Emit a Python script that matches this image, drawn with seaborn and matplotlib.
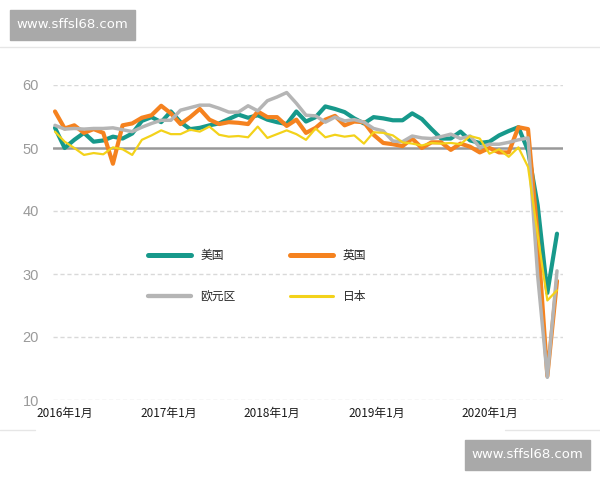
import numpy as np
import pandas as pd
import matplotlib
matplotlib.use("Agg")
import matplotlib.pyplot as plt
from matplotlib.lines import Line2D
from matplotlib.patches import Rectangle
import seaborn as sns

# ---------------- data ----------------
series_names = ["美国", "英国", "欧元区", "日本"]
us = [53.2, 50.0, 51.3, 52.4, 51.0, 51.2, 51.8, 51.5, 52.3, 54.3, 54.9, 54.1,
      55.8, 54.1, 53.0, 53.2, 53.6, 53.9, 54.6, 55.3, 54.8, 55.2, 54.5, 54.1,
      53.8, 55.8, 54.2, 54.9, 56.6, 56.2, 55.7, 54.7, 53.9, 54.9, 54.7, 54.4,
      54.4, 55.5, 54.6, 53.0, 51.5, 51.5, 52.6, 51.2, 50.8, 51.0, 52.0, 52.7,
      53.3, 49.6, 40.9, 27.0, 36.4]
uk = [55.8, 53.1, 53.6, 52.4, 53.0, 52.4, 47.5, 53.6, 53.9, 54.8, 55.2, 56.7,
      55.5, 53.8, 54.9, 56.2, 54.5, 53.8, 54.1, 54.0, 53.8, 55.8, 54.9, 54.9,
      53.5, 54.5, 52.4, 53.2, 54.5, 55.1, 53.6, 54.2, 54.1, 52.1, 50.8, 50.6,
      50.3, 51.5, 50.0, 50.9, 50.9, 49.7, 50.7, 50.2, 49.3, 50.0, 49.3, 49.3,
      53.3, 53.0, 36.0, 13.8, 28.9]
ez = [53.6, 53.0, 53.1, 53.0, 53.1, 53.1, 53.2, 52.9, 52.6, 53.3, 53.9, 54.4,
      54.4, 56.0, 56.4, 56.8, 56.8, 56.3, 55.7, 55.7, 56.7, 55.9, 57.5, 58.1,
      58.8, 57.1, 55.2, 55.1, 54.1, 54.9, 54.3, 54.5, 54.1, 53.1, 52.7, 51.1,
      51.0, 51.9, 51.6, 51.5, 51.8, 52.2, 51.5, 51.9, 50.1, 50.6, 50.6, 50.9,
      51.3, 51.6, 29.7, 13.6, 30.5]
jp = [52.6, 51.0, 50.0, 48.9, 49.2, 49.0, 50.1, 49.8, 48.9, 51.3, 52.0, 52.8,
      52.2, 52.2, 52.9, 52.6, 53.4, 52.1, 51.8, 51.9, 51.7, 53.4, 51.6, 52.2,
      52.8, 52.2, 51.3, 53.1, 51.7, 52.1, 51.8, 52.0, 50.7, 52.5, 52.4, 52.0,
      50.9, 50.7, 50.4, 50.8, 50.7, 50.8, 50.6, 51.9, 51.5, 49.1, 49.8, 48.6,
      50.1, 47.0, 36.2, 25.8, 27.4]
x_tick_labels = ["2016年1月", "2017年1月", "2018年1月", "2019年1月", "2020年1月"]
y_ticks = [10, 20, 30, 40, 50, 60]

colors = {"美国": "#17998b", "英国": "#f5821f", "欧元区": "#b5b5b5", "日本": "#f3d21a"}
widths = {"美国": 3.0, "英国": 3.0, "欧元区": 2.5, "日本": 1.6}

month_idx = np.arange(len(us))
df = pd.concat([
    pd.DataFrame({"month": month_idx, "value": vals, "country": name})
    for name, vals in zip(series_names, [us, uk, ez, jp])
], ignore_index=True)

# ---------------- figure ----------------
sns.set_theme(style="white")
plt.rcParams["font.family"] = ["Noto Sans CJK SC", "DejaVu Sans"]

fig = plt.figure(figsize=(6, 4.8), dpi=100)
W, H = 600, 480
ax_l, ax_r, ax_t, ax_b = 53, 563, 85, 400
ax = fig.add_axes([ax_l / W, (H - ax_b) / H, (ax_r - ax_l) / W, (ax_b - ax_t) / H])

px_per_month = 9.654
x0 = -2 / px_per_month
x1 = (len(us) - 1) + 6 / px_per_month
ax.set_xlim(x0, x1)
ax.set_ylim(10, 60)

# gridlines
for yv in y_ticks:
    if yv != 50:
        ax.axhline(yv, color="#d9d9d9", lw=1.0, ls=(0, (3, 2)), zorder=0)
ax.axhline(50, color="#999999", lw=1.8, zorder=1)

for name in series_names:
    sub = df[df["country"] == name]
    sns.lineplot(data=sub, x="month", y="value", ax=ax, color=colors[name],
                 lw=widths[name], legend=False, zorder=3,
                 solid_capstyle="round", solid_joinstyle="round")

for s in ax.spines.values():
    s.set_visible(False)

ax.set_yticks(y_ticks)
ax.set_yticklabels([str(v) for v in y_ticks], color="#9a9a9a", fontsize=10.5,
                   family=["Liberation Sans", "DejaVu Sans"])
tick_pos = [(p - 55) / px_per_month for p in [65, 169, 272, 377, 490]]
ax.set_xticks(tick_pos)
ax.set_xticklabels(x_tick_labels, color="#1a1a1a", fontsize=8.5)
ax.tick_params(axis="both", length=0)
ax.tick_params(axis="y", pad=10)
ax.tick_params(axis="x", pad=5)
ax.set_xlabel("")
ax.set_ylabel("")

# legend (row-wise: 美国 英国 / 欧元区 日本)
leg_order = ["美国", "欧元区", "英国", "日本"]
handles = [Line2D([0], [0], color=colors[n], lw=widths[n] + 0.6, solid_capstyle="round")
           for n in leg_order]
fig.legend(handles, leg_order, ncol=2, frameon=False, loc="upper left",
           bbox_to_anchor=(148 / W, (H - 249) / H), bbox_transform=fig.transFigure,
           fontsize=8.5, handlelength=3.6, handletextpad=0.85, labelspacing=2.4,
           columnspacing=4.6, borderpad=0, borderaxespad=0)

# frame lines from the screenshot
fig.add_artist(Line2D([0, 1], [(H - 47) / H] * 2, color="#e6e6e6", lw=1.0,
                      transform=fig.transFigure))
fig.add_artist(Line2D([505 / W, 1], [(H - 430) / H] * 2, color="#e6e6e6", lw=1.0,
                      transform=fig.transFigure))
fig.add_artist(Line2D([0, 35 / W], [(H - 430) / H] * 2, color="#e6e6e6", lw=1.0,
                      transform=fig.transFigure))

# watermarks
for (bx, by) in [(10, 10), (465, 440)]:
    fig.add_artist(Rectangle((bx / W, (H - by - 30) / H), 125 / W, 30 / H,
                             transform=fig.transFigure, color="#a9a9a9", zorder=5))
    fig.text((bx + 62.5) / W, (H - by - 15) / H, "www.sffsl68.com", color="white",
             fontsize=9.5, ha="center", va="center", zorder=6,
             family=["DejaVu Sans"])

fig.savefig("out.png", dpi=100)
